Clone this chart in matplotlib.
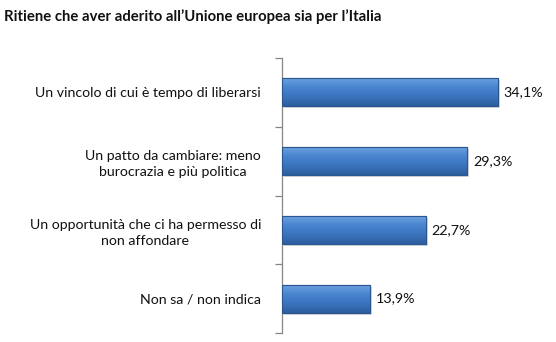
import matplotlib
matplotlib.use("Agg")
import matplotlib.pyplot as plt
import numpy as np
from matplotlib.colors import LinearSegmentedColormap
import matplotlib.transforms as mtransforms

plt.rcParams['font.family'] = ['Lato', 'DejaVu Sans']

title = "Ritiene che aver aderito all\u2019Unione europea sia per l\u2019Italia"
categories = [
    "Un vincolo di cui \u00e8 tempo di liberarsi",
    "Un patto da cambiare: meno\nburocrazia e pi\u00f9 politica",
    "Un opportunit\u00e0 che ci ha permesso di\nnon affondare",
    "Non sa / non indica",
]
values = [34.1, 29.3, 22.7, 13.9]
value_labels = ["34,1%", "29,3%", "22,7%", "13,9%"]

W, H = 556, 342
fig = plt.figure(figsize=(W / 100, H / 100), dpi=100)
fig.patch.set_facecolor('white')

left_px, right_px = 282, 548
top_px, bot_px = 58, 333
ax = fig.add_axes([left_px / W, 1 - bot_px / H, (right_px - left_px) / W, (bot_px - top_px) / H])

n = len(categories)
ys = np.arange(n)
ax.set_xlim(0, (right_px - left_px) / 6.33)
ax.set_ylim(n - 0.5, -0.5)

cmap = LinearSegmentedColormap.from_list("bar", ["#6FA3E0", "#4A86D0", "#3B74BE", "#2D5E9E"])
grad = np.linspace(0, 1, 64).reshape(-1, 1)
bar_h = 0.41
offset = mtransforms.ScaledTranslation(2 / 100, -2 / 100, fig.dpi_scale_trans)
for y, v, lab in zip(ys, values, value_labels):
    ax.barh(y, v, height=bar_h, color="#9a9a9a", alpha=0.35,
            transform=ax.transData + offset, zorder=1)
    bars = ax.barh(y, v, height=bar_h, color="#3F7AC6", edgecolor="#2B5690",
                   linewidth=0.8, zorder=2)
    b = bars[0]
    im = ax.imshow(grad, cmap=cmap, aspect='auto',
                   extent=[0, v, y + bar_h / 2, y - bar_h / 2], zorder=3,
                   interpolation='bicubic')
    im.set_clip_path(b)
    ax.barh(y, v, height=bar_h, fill=False, edgecolor="#2B5690", linewidth=0.8, zorder=4)
    ax.text(v + 0.85, y, lab, va='center', ha='left', fontsize=10.3, color='#111111')

for s in ['top', 'right', 'bottom']:
    ax.spines[s].set_visible(False)
ax.spines['left'].set_color('#868686')
ax.spines['left'].set_linewidth(0.9)
ax.set_xticks([])
ax.set_yticks(ys)
ax.set_yticklabels(categories, fontsize=10.2, multialignment='center', color='#111111',
                   linespacing=1.4)
ax.tick_params(axis='y', which='major', length=0, pad=15)
ax.set_yticks(np.arange(-0.5, n, 1), minor=True)
ax.tick_params(axis='y', which='minor', length=5, color='#868686', width=0.9)
ax.set_autoscale_on(False)

fig.text(4 / W, 1 - 17 / H, title, fontsize=10.7, fontweight='bold', ha='left', va='center', color='#111111')

fig.savefig("out.png", dpi=100)
